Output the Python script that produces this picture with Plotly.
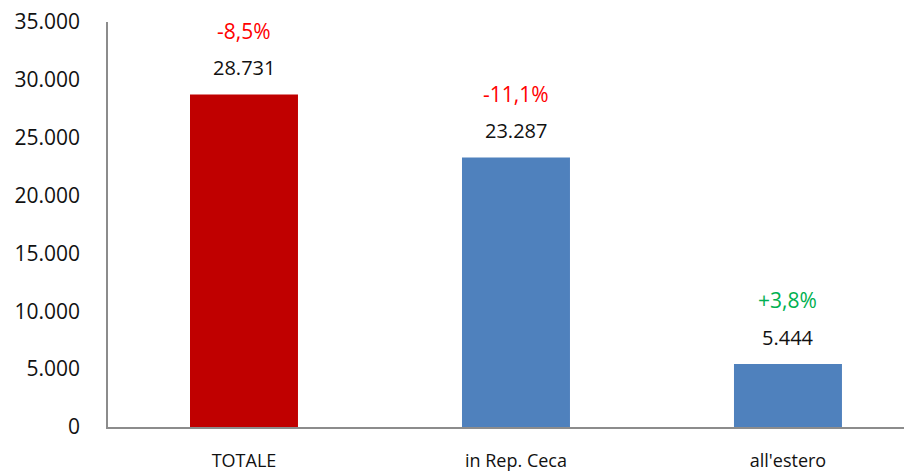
import plotly.graph_objects as go

categories = ["TOTALE", "in Rep. Ceca", "all'estero"]
values = [28731, 23287, 5444]
value_labels = ["28.731", "23.287", "5.444"]
pct_labels = ["-8,5%", "-11,1%", "+3,8%"]
pct_colors = ["#FF0000", "#FF0000", "#00B050"]
bar_colors = ["#C00000", "#4F81BD", "#4F81BD"]
tick_vals = [0, 5000, 10000, 15000, 20000, 25000, 30000, 35000]
tick_text = ["0", "5.000", "10.000", "15.000", "20.000", "25.000", "30.000", "35.000"]

FONT = "Open Sans"

fig = go.Figure(go.Bar(x=categories, y=values, marker_color=bar_colors,
                       marker_line_width=0, width=0.397))

for c, v, vl, pl, pc in zip(categories, values, value_labels, pct_labels, pct_colors):
    fig.add_annotation(x=c, y=v, text=vl, showarrow=False, yanchor="middle",
                       yshift=27, font=dict(family=FONT, size=20, color="#111111"))
    fig.add_annotation(x=c, y=v, text=pl, showarrow=False, yanchor="middle",
                       yshift=64, font=dict(family=FONT, size=21, color=pc))

# page body has an 8px default margin, so the figure is sized/offset to compensate
fig.update_layout(
    width=904, height=467,
    margin=dict(l=100, r=0, t=14, b=48),
    plot_bgcolor="white", paper_bgcolor="white",
    showlegend=False,
)
fig.update_xaxes(range=[-0.5, 2.456], showline=True, linecolor="#8c8c8c", linewidth=1.5,
                 ticks="", showgrid=False, ticklabelstandoff=17, automargin=False,
                 tickfont=dict(family=FONT, size=18, color="#111111"))
fig.update_yaxes(range=[0, 35000], tickvals=tick_vals, ticktext=tick_text,
                 showline=True, linecolor="#8c8c8c", linewidth=1.5, showgrid=False,
                 zeroline=False, ticks="", ticklabelstandoff=22, automargin=False,
                 ticklabeloverflow="allow",
                 tickfont=dict(family=FONT, size=21, color="#111111"))

fig.write_html("out.html")
